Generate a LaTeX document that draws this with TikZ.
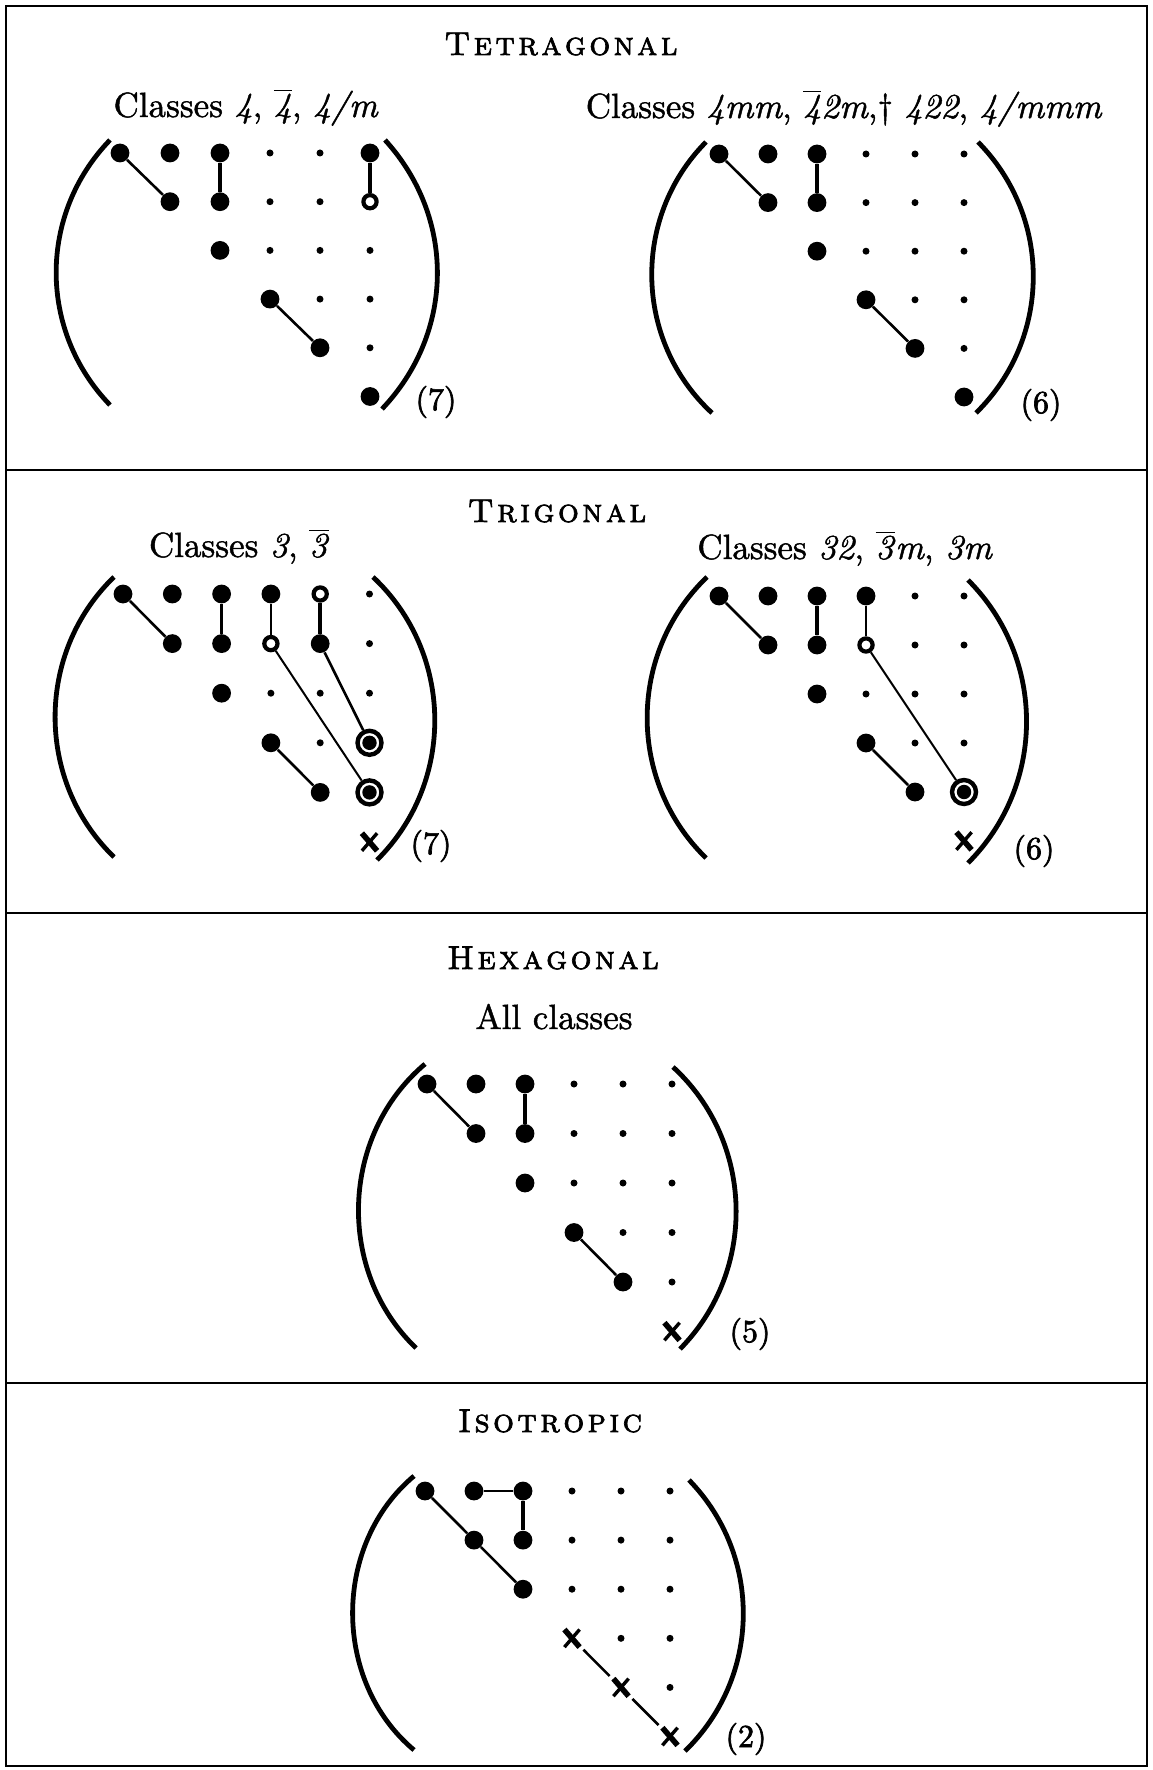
\documentclass[tikz,border=0pt]{standalone}
\usepackage{fontspec}
\newfontfamily\capfont{lmroman10}[Extension=.otf,UprightFont=*-regular,ItalicFont=*-italic,FakeBold=1.3]
\newfontfamily\lblfont{lmroman10}[Extension=.otf,UprightFont=*-regular,ItalicFont=*-italic,FakeBold=2.2]
\newfontfamily\ttlfont{lmromancaps10-regular}[Extension=.otf,FakeBold=2]
\newcommand\lsp{\kern.1em}
\newcommand\ovl[1]{$\overline{\mbox{#1}}$}
\tikzset{
  dbig/.style={circle,fill=black,inner sep=0pt,minimum size=9.4pt},
  dsmall/.style={circle,fill=black,inner sep=0pt,minimum size=3.5pt},
  dopen/.style={circle,draw=black,fill=white,line width=2.1pt,inner sep=0pt,minimum size=6.6pt},
  dring/.style={circle,draw=black,fill=white,line width=2.2pt,inner sep=0pt,minimum size=12pt,
    path picture={\fill[black] (path picture bounding box.center) circle (3.6pt);}},
  dcross/.style={rectangle,inner sep=0pt,minimum width=11pt,minimum height=12pt,
    path picture={
      \draw[line width=2.8pt] ([shift={(1.7pt,-1.6pt)}]path picture bounding box.north west) -- ([shift={(-1.7pt,1.6pt)}]path picture bounding box.south east);
      \draw[line width=1.7pt] ([shift={(-1.7pt,-1.6pt)}]path picture bounding box.north east) -- ([shift={(1.7pt,1.6pt)}]path picture bounding box.south west);}},
  lnk/.style={line width=1.3pt},
  lnkheavy/.style={line width=1.8pt},
  lnkfine/.style={line width=1.0pt},
  parenline/.style={line width=2.4pt},
  frameline/.style={line width=1.4pt},
  ttl/.style={anchor=base,inner sep=0pt,font=\ttlfont\fontsize{16.5}{19}\selectfont},
  capt/.style={anchor=base,inner sep=0pt,font=\capfont\fontsize{17.5}{20}\selectfont},
  lbl/.style={inner sep=0pt,font=\lblfont\fontsize{16}{18}\selectfont},
}
\begin{document}
\begin{tikzpicture}[x=0.5pt,y=-0.5pt]
\useasboundingbox (0,0) rectangle (1152,1770);
\fill[white] (0,0) rectangle (1152,1770);
% frame
\draw[frameline] (6,6) rectangle (1147,1766);
\draw[frameline] (6,470) -- (1147,470);
\draw[frameline] (6,913) -- (1147,913);
\draw[frameline] (6,1383) -- (1147,1383);

% titles and captions
\node[ttl] (tTet) at (561,55) {T\lsp e\lsp t\lsp r\lsp a\lsp g\lsp o\lsp n\lsp a\lsp l};
\node[ttl] (tTri) at (557,522) {T\lsp r\lsp i\lsp g\lsp o\lsp n\lsp a\lsp l};
\node[ttl] (tHex) at (553,969) {H\lsp e\lsp x\lsp a\lsp g\lsp o\lsp n\lsp a\lsp l};
\node[ttl] (tIso) at (550,1432) {I\lsp s\lsp o\lsp t\lsp r\lsp o\lsp p\lsp i\lsp c};

\node[capt] (cA) at (246,117) {Classes \textit{4}, \ovl{\textit{4}}, \textit{4/m}};
\node[capt] (cB) at (844,118) {Classes \textit{4mm}, \ovl{\textit{4}}\textit{2m},\textdagger\ \textit{422}, \textit{4/mmm}};
\node[capt] (cC) at (239,557) {Classes \textit{3}, \ovl{\textit{3}}};
\node[capt] (cD) at (845,559) {Classes \textit{32}, \ovl{\textit{3}}\textit{m}, \textit{3m}};
\node[capt] (cE) at (554,1029) {All classes};

\node[lbl] (nA) at (436,402) {(7)};
\node[lbl] (nB) at (1041,405) {(6)};
\node[lbl] (nC) at (431,846) {(7)};
\node[lbl] (nD) at (1034,851) {(6)};
\node[lbl] (nE) at (750,1334) {(5)};
\node[lbl] (nF) at (746,1739) {(2)};

% ---- Tetragonal, left
\begin{scope}[shift={(120,153)},x=25pt,y=-24.35pt]
\foreach \r/\c/\s in {1/1/dbig,1/2/dbig,1/3/dbig,1/4/dsmall,1/5/dsmall,1/6/dbig,
  2/2/dbig,2/3/dbig,2/4/dsmall,2/5/dsmall,2/6/dopen,
  3/3/dbig,3/4/dsmall,3/5/dsmall,3/6/dsmall,
  4/4/dbig,4/5/dsmall,4/6/dsmall,
  5/5/dbig,5/6/dsmall,
  6/6/dbig}
  \node[\s] (A\r\c) at (\c-1,\r-1) {};
\end{scope}
\draw[lnk] (A11) -- (A22);
\draw[lnkheavy] (A13) -- (A23);
\draw[lnkheavy] (A16) -- (A26);
\draw[lnk] (A44) -- (A55);
\draw[parenline] (110,140) to[bend right=44] (110,405);
\draw[parenline] (385,140) to[bend left=43] (382,409);

% ---- Tetragonal, right
\begin{scope}[shift={(719,154)},x=24.5pt,y=-24.3pt]
\foreach \r/\c/\s in {1/1/dbig,1/2/dbig,1/3/dbig,1/4/dsmall,1/5/dsmall,1/6/dsmall,
  2/2/dbig,2/3/dbig,2/4/dsmall,2/5/dsmall,2/6/dsmall,
  3/3/dbig,3/4/dsmall,3/5/dsmall,3/6/dsmall,
  4/4/dbig,4/5/dsmall,4/6/dsmall,
  5/5/dbig,5/6/dsmall,
  6/6/dbig}
  \node[\s] (B\r\c) at (\c-1,\r-1) {};
\end{scope}
\draw[lnk] (B11) -- (B22);
\draw[lnkheavy] (B13) -- (B23);
\draw[lnk] (B44) -- (B55);
\draw[parenline] (706,142) to[bend right=46] (712,413);
\draw[parenline] (978,142) to[bend left=45] (976,413);

% ---- Trigonal, left
\begin{scope}[shift={(123,594)},x=24.65pt,y=-24.8pt]
\foreach \r/\c/\s in {1/1/dbig,1/2/dbig,1/3/dbig,1/4/dbig,1/5/dopen,1/6/dsmall,
  2/2/dbig,2/3/dbig,2/4/dopen,2/5/dbig,2/6/dsmall,
  3/3/dbig,3/4/dsmall,3/5/dsmall,3/6/dsmall,
  4/4/dbig,4/5/dsmall,4/6/dring,
  5/5/dbig,5/6/dring,
  6/6/dcross}
  \node[\s] (C\r\c) at (\c-1,\r-1) {};
\end{scope}
\draw[lnk] (C11) -- (C22);
\draw[lnkheavy] (C13) -- (C23);
\draw[lnkfine] (C14) -- (C24);
\draw[lnkheavy] (C15) -- (C25);
\draw[lnkfine] (C24) -- (C56);
\draw[lnk] (C25) -- (C46);
\draw[lnk] (C44) -- (C55);
\draw[parenline] (114,577) to[bend right=46] (114,857);
\draw[parenline] (373,577) to[bend left=46] (377,860);

% ---- Trigonal, right
\begin{scope}[shift={(719,596)},x=24.5pt,y=-24.5pt]
\foreach \r/\c/\s in {1/1/dbig,1/2/dbig,1/3/dbig,1/4/dbig,1/5/dsmall,1/6/dsmall,
  2/2/dbig,2/3/dbig,2/4/dopen,2/5/dsmall,2/6/dsmall,
  3/3/dbig,3/4/dsmall,3/5/dsmall,3/6/dsmall,
  4/4/dbig,4/5/dsmall,4/6/dsmall,
  5/5/dbig,5/6/dring,
  6/6/dcross}
  \node[\s] (D\r\c) at (\c-1,\r-1) {};
\end{scope}
\draw[lnk] (D11) -- (D22);
\draw[lnkheavy] (D13) -- (D23);
\draw[lnkfine] (D14) -- (D24);
\draw[lnkfine] (D24) -- (D56);
\draw[lnk] (D44) -- (D55);
\draw[parenline] (707,577) to[bend right=46] (706,858);
\draw[parenline] (968,580) to[bend left=45] (968,863);

% ---- Hexagonal
\begin{scope}[shift={(427,1084)},x=24.5pt,y=-24.75pt]
\foreach \r/\c/\s in {1/1/dbig,1/2/dbig,1/3/dbig,1/4/dsmall,1/5/dsmall,1/6/dsmall,
  2/2/dbig,2/3/dbig,2/4/dsmall,2/5/dsmall,2/6/dsmall,
  3/3/dbig,3/4/dsmall,3/5/dsmall,3/6/dsmall,
  4/4/dbig,4/5/dsmall,4/6/dsmall,
  5/5/dbig,5/6/dsmall,
  6/6/dcross}
  \node[\s] (E\r\c) at (\c-1,\r-1) {};
\end{scope}
\draw[lnk] (E11) -- (E22);
\draw[lnkheavy] (E13) -- (E23);
\draw[lnk] (E44) -- (E55);
\draw[parenline] (425,1064) to[bend right=48] (416,1348);
\draw[parenline] (673,1067) to[bend left=46] (680,1349);

% ---- Isotropic
\begin{scope}[shift={(425,1491)},x=24.5pt,y=-24.55pt]
\foreach \r/\c/\s in {1/1/dbig,1/2/dbig,1/3/dbig,1/4/dsmall,1/5/dsmall,1/6/dsmall,
  2/2/dbig,2/3/dbig,2/4/dsmall,2/5/dsmall,2/6/dsmall,
  3/3/dbig,3/4/dsmall,3/5/dsmall,3/6/dsmall,
  4/4/dcross,4/5/dsmall,4/6/dsmall,
  5/5/dcross,5/6/dsmall,
  6/6/dcross}
  \node[\s] (F\r\c) at (\c-1,\r-1) {};
\end{scope}
\draw[lnk] (F11) -- (F22);
\draw[lnk] (F22) -- (F33);
\draw[lnk] (F12) -- (F13);
\draw[lnkheavy] (F13) -- (F23);
\draw[lnk] (F44) -- (F55);
\draw[lnk] (F55) -- (F66);
\draw[parenline] (414,1476) to[bend right=50] (414,1750);
\draw[parenline] (689,1480) to[bend left=45] (685,1751);
\end{tikzpicture}
\end{document}
